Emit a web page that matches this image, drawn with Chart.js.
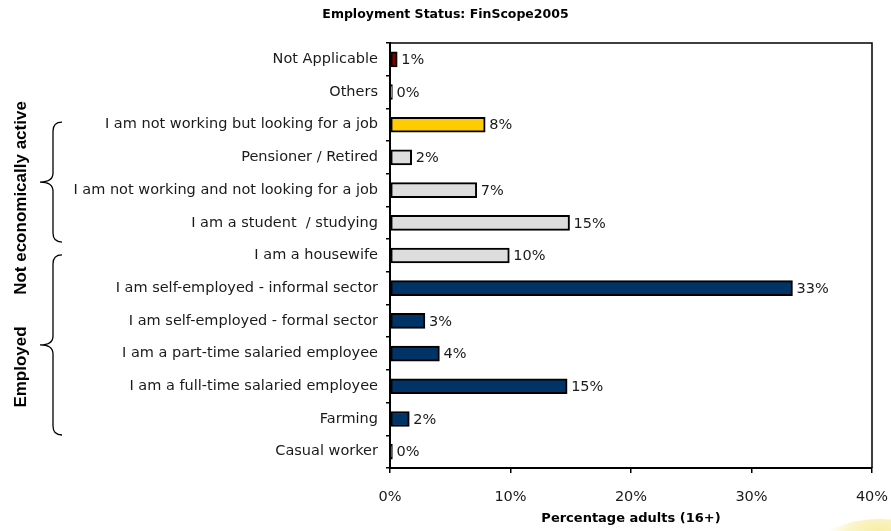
<!DOCTYPE html>
<html>
<head>
<meta charset="utf-8">
<title>Employment Status: FinScope2005</title>
<script src="https://cdn.jsdelivr.net/npm/chart.js@4.4.1/dist/chart.umd.min.js"></script>
<style>
  html, body { margin: 0; padding: 0; background: #fff; }
  #wrap { width: 891px; height: 531px; position: relative; }
</style>
</head>
<body>
<div id="wrap"><canvas id="employmentChart" width="891" height="531"></canvas></div>
<script>
const categories = [
    'Not Applicable',
    'Others',
    'I am not working but looking for a job',
    'Pensioner / Retired',
    'I am not working and not looking for a job',
    'I am a student  / studying',
    'I am a housewife',
    'I am self-employed - informal sector',
    'I am self-employed - formal sector',
    'I am a part-time salaried employee',
    'I am a full-time salaried employee',
    'Farming',
    'Casual worker'
];
const shares = [0.6, 0.2, 7.9, 1.8, 7.2, 14.9, 9.9, 33.4, 2.9, 4.1, 14.7, 1.6, 0.2];
const barColors = [
    '#800000', '#808080', '#FFCC00', '#DDDDDD', '#DDDDDD', '#DDDDDD', '#DDDDDD',
    '#003366', '#003366', '#003366', '#003366', '#003366', '#003366'
];
const xTicks = [0, 10, 20, 30, 40];

// bracket groups: label, first/last category position (fractional index)
const groupLabels = ['Not economically active', 'Employed'];
const groupSpans = [[1.92, 5.59], [5.98, 11.49]];

const TEXT = '#1a1a1a';
const LABEL_FONT = { family: 'DejaVu Sans', size: 14.5 };

// value labels, box around plot, brackets on the left
const annotate = {
    id: 'annotate',
    afterDatasetsDraw(chart) {
        const ctx = chart.ctx;
        const meta = chart.getDatasetMeta(0);
        ctx.save();
        ctx.font = '14.5px "DejaVu Sans"';
        ctx.fillStyle = TEXT;
        ctx.textAlign = 'left';
        ctx.textBaseline = 'middle';
        meta.data.forEach((bar, i) => {
            ctx.fillText(Math.round(shares[i]) + '%', bar.x + 4, bar.y + 1);
        });
        ctx.restore();
    },
    afterDraw(chart) {
        const ctx = chart.ctx;
        const a = chart.chartArea;
        const y = chart.scales.y;
        ctx.save();
        ctx.strokeStyle = '#000';
        ctx.lineWidth = 1.5;
        ctx.beginPath();
        ctx.moveTo(a.left, a.top);
        ctx.lineTo(a.right, a.top);
        ctx.lineTo(a.right, a.bottom);
        ctx.stroke();

        // curly braces
        ctx.lineWidth = 1.3;
        groupSpans.forEach((span, g) => {
            const top = y.getPixelForValue(span[0]);
            const bot = y.getPixelForValue(span[1]);
            const mid = (top + bot) / 2;
            const xs = 53, xe = 62, xt = 40, r = 9;
            ctx.beginPath();
            ctx.moveTo(xe, top);
            ctx.quadraticCurveTo(xs, top, xs, top + r);
            ctx.lineTo(xs, mid - r);
            ctx.quadraticCurveTo(xs, mid, xt, mid);
            ctx.quadraticCurveTo(xs, mid, xs, mid + r);
            ctx.lineTo(xs, bot - r);
            ctx.quadraticCurveTo(xs, bot, xe, bot);
            ctx.stroke();
        });

        ctx.fillStyle = '#000';
        ctx.font = 'bold 17px "Liberation Sans"';
        ctx.textAlign = 'center';
        ctx.textBaseline = 'middle';
        const labelMid = [198, 367];
        groupLabels.forEach((t, g) => {
            ctx.save();
            ctx.translate(21, labelMid[g]);
            ctx.rotate(-Math.PI / 2);
            ctx.fillText(t, 0, 0);
            ctx.restore();
        });

        // soft yellow corner ornament
        const grd = ctx.createRadialGradient(880, 545, 5, 880, 545, 60);
        grd.addColorStop(0, 'rgba(245,232,140,0.9)');
        grd.addColorStop(0.6, 'rgba(248,240,175,0.6)');
        grd.addColorStop(1, 'rgba(255,255,255,0)');
        ctx.fillStyle = grd;
        ctx.beginPath();
        ctx.ellipse(880, 545, 60, 26, 0, 0, Math.PI * 2);
        ctx.fill();
        ctx.restore();
    }
};

new Chart(document.getElementById('employmentChart'), {
    type: 'bar',
    data: {
        labels: categories,
        datasets: [{
            data: shares,
            backgroundColor: barColors,
            borderColor: '#000',
            borderWidth: 2,
            borderSkipped: false,
            barThickness: 15
        }]
    },
    options: {
        indexAxis: 'y',
        responsive: false,
        animation: false,
        layout: { padding: 0 },
        plugins: {
            legend: { display: false },
            tooltip: { enabled: false },
            title: {
                display: true,
                text: 'Employment Status: FinScope2005',
                color: '#000',
                font: { family: 'DejaVu Sans', size: 12.5, weight: 'bold' },
                padding: { top: 7, bottom: 21 }
            }
        },
        scales: {
            x: {
                min: 0,
                max: 40,
                afterFit: s => {
                    s.height = 63;
                    s.paddingLeft = 0;
                    s.paddingRight = 19;
                },
                afterBuildTicks: s => { s.ticks = xTicks.map(v => ({ value: v })); },
                ticks: {
                    color: TEXT,
                    font: LABEL_FONT,
                    padding: 16,
                    callback: v => v + '%'
                },
                grid: { drawOnChartArea: false, color: '#000', tickLength: 5, lineWidth: 1.5 },
                border: { color: '#000', width: 2 },
                title: {
                    display: true,
                    text: 'Percentage adults (16+)',
                    color: '#000',
                    font: { family: 'DejaVu Sans', size: 13, weight: 'bold' },
                    padding: { top: 0, bottom: 5 }
                }
            },
            y: {
                afterFit: s => { s.width = 390; },
                ticks: { color: TEXT, font: LABEL_FONT, padding: 8 },
                grid: { drawOnChartArea: false, offset: true, color: '#000', tickLength: 4, lineWidth: 1.5 },
                border: { color: '#000', width: 2 }
            }
        }
    },
    plugins: [annotate]
});
</script>
</body>
</html>
